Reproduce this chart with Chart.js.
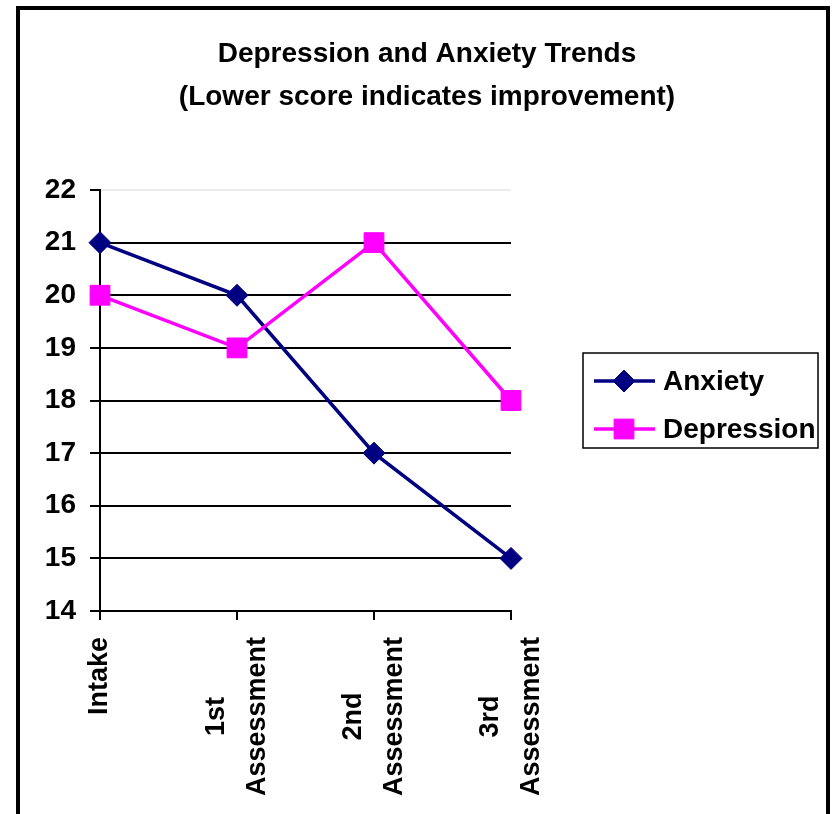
<!DOCTYPE html>
<html>
<head>
<meta charset="utf-8">
<title>Depression and Anxiety Trends</title>
<script src="https://cdn.jsdelivr.net/npm/chart.js@4.4.1/dist/chart.umd.min.js"></script>
<style>
  html, body { margin: 0; padding: 0; background: #fff; }
  canvas { display: block; }
</style>
</head>
<body>
<canvas id="trend" width="832" height="814"></canvas>
<script>
'use strict';

// ── Data ─────────────────────────────────────────────────────────
const categories = [['Intake'], ['1st', 'Assessment'], ['2nd', 'Assessment'], ['3rd', 'Assessment']];
const anxiety    = [21, 20, 17, 15];
const depression = [20, 19, 21, 18];
const yTicks     = [14, 15, 16, 17, 18, 19, 20, 21, 22];
const titleLines = ['Depression and Anxiety Trends', '(Lower score indicates improvement)'];

// ── Look ─────────────────────────────────────────────────────────
const FONT = "'Liberation Sans', Arial, Helvetica, sans-serif";
const C = { anxiety: '#000080', depression: '#FF00FF', ink: '#000000' };

Chart.defaults.font.family = FONT;
Chart.defaults.font.size   = 28;
Chart.defaults.font.weight = 'bold';
Chart.defaults.color       = C.ink;

// point marker, used by the legend so it matches the series
function marker(ctx, style, radius, x, y, color) {
  ctx.save();
  ctx.fillStyle = color;
  ctx.strokeStyle = color;
  ctx.lineWidth = 1;
  Chart.helpers.drawPoint(ctx, { pointStyle: style, radius: radius, rotation: 0, borderWidth: 1 }, x, y);
  ctx.restore();
}

// ── Plugin: white page + chart frame ─────────────────────────────
const framePlugin = {
  id: 'frame',
  beforeDraw(chart) {
    const { ctx, width, height } = chart;
    ctx.save();
    ctx.fillStyle = '#fff';
    ctx.fillRect(0, 0, width, height);
    ctx.restore();
  },
  afterDraw(chart) {
    const ctx = chart.ctx;
    ctx.save();
    ctx.strokeStyle = C.ink;
    ctx.lineWidth = 4;
    ctx.strokeRect(18, 8, 810, chart.height + 20);
    ctx.restore();
  }
};

// ── Plugin: vertical category labels, lines centred on each other ─
const xLabelPlugin = {
  id: 'xLabels',
  afterDraw(chart) {
    const scale = chart.scales.x;
    const ctx = chart.ctx;
    const gap = 41;
    ctx.save();
    ctx.font = 'bold 27px ' + FONT;
    ctx.fillStyle = C.ink;
    ctx.textAlign = 'center';
    ctx.textBaseline = 'middle';
    categories.forEach((lines, i) => {
      const x = scale.getPixelForTick(i);
      const top = scale.top + 26;
      const w = Math.max(...lines.map(t => ctx.measureText(t).width));
      ctx.save();
      ctx.translate(x, top);
      ctx.rotate(-Math.PI / 2);
      lines.forEach((t, j) => ctx.fillText(t, -w / 2, (j - (lines.length - 1) / 2) * gap));
      ctx.restore();
    });
    ctx.restore();
  }
};

// ── Plugin: boxed legend living in its own layout column ─────────
const LEGEND_COL = 321;

function drawLegend(chart, area) {
  const ctx = chart.ctx;
  const w = 235, h = 95, rowGap = 48;
  const x = area.left + 72;
  const y = area.top + area.height / 2 - h / 2;
  ctx.save();
  ctx.strokeStyle = C.ink;
  ctx.lineWidth = 1.5;
  ctx.strokeRect(x, y, w, h);
  chart.data.datasets.forEach((ds, i) => {
    const cy = y + 28 + i * rowGap;
    ctx.strokeStyle = ds.borderColor;
    ctx.lineWidth = ds.borderWidth;
    ctx.beginPath();
    ctx.moveTo(x + 11, cy);
    ctx.lineTo(x + 72, cy);
    ctx.stroke();
    marker(ctx, ds.pointStyle, ds.pointRadius, x + 41, cy, ds.borderColor);
    ctx.fillStyle = C.ink;
    ctx.font = 'bold 28px ' + FONT;
    ctx.textAlign = 'left';
    ctx.textBaseline = 'middle';
    ctx.fillText(ds.label, x + 80, cy + 1);
  });
  ctx.restore();
}

const boxLegend = {
  id: 'boxLegend',
  start(chart) {
    const box = {
      position: 'right', weight: 1000, fullSize: false, options: {},
      left: 0, top: 0, right: 0, bottom: 0, width: 0, height: 0,
      isHorizontal() { return false; },
      update(maxWidth, maxHeight) { this.width = LEGEND_COL; this.height = maxHeight; },
      draw() { drawLegend(chart, this); }
    };
    Chart.layouts.addBox(chart, box);
    chart.$boxLegend = box;
  },
  stop(chart) {
    Chart.layouts.removeBox(chart, chart.$boxLegend);
    delete chart.$boxLegend;
  }
};

// ── Chart ────────────────────────────────────────────────────────
new Chart(document.getElementById('trend'), {
  type: 'line',
  data: {
    labels: categories,
    datasets: [
      {
        label: 'Anxiety', data: anxiety, order: 2,
        borderColor: C.anxiety, backgroundColor: C.anxiety, borderWidth: 3.5,
        pointStyle: 'rectRot', pointRadius: 11, pointBorderWidth: 1,
        pointBackgroundColor: C.anxiety, pointBorderColor: C.anxiety, tension: 0
      },
      {
        label: 'Depression', data: depression, order: 1,
        borderColor: C.depression, backgroundColor: C.depression, borderWidth: 3.5,
        pointStyle: 'rect', pointRadius: 14, pointBorderWidth: 1,
        pointBackgroundColor: C.depression, pointBorderColor: C.depression, tension: 0
      }
    ]
  },
  options: {
    responsive: false,
    devicePixelRatio: 1,
    animation: false,
    layout: { padding: { left: 22, right: 0, top: 0, bottom: 0 } },
    plugins: {
      legend: { display: false },
      tooltip: { enabled: false },
      title: {
        display: true,
        text: titleLines,
        color: C.ink,
        font: { size: 28, weight: 'bold', lineHeight: 1.536 },
        padding: { top: 33, bottom: 71 }
      }
    },
    scales: {
      x: {
        type: 'category',
        offset: false,
        ticks: { display: false },
        grid: { drawOnChartArea: false, drawTicks: true, tickLength: 9, color: C.ink, lineWidth: 2 },
        border: { color: C.ink, width: 2 },
        afterFit(scale) { scale.height = 203; }
      },
      y: {
        min: yTicks[0],
        max: yTicks[yTicks.length - 1],
        afterBuildTicks(scale) { scale.ticks = yTicks.map(v => ({ value: v })); },
        ticks: { color: C.ink, font: { size: 28, weight: 'bold' }, padding: 14 },
        grid: {
          color: c => (c.tick && c.tick.value === yTicks[yTicks.length - 1]) ? '#ececec' : C.ink,
          lineWidth: 2, tickColor: C.ink, tickLength: 10
        },
        border: { color: C.ink, width: 2 },
        afterFit(scale) { scale.width = 78; }
      }
    }
  },
  plugins: [framePlugin, xLabelPlugin, boxLegend]
});
</script>
</body>
</html>
